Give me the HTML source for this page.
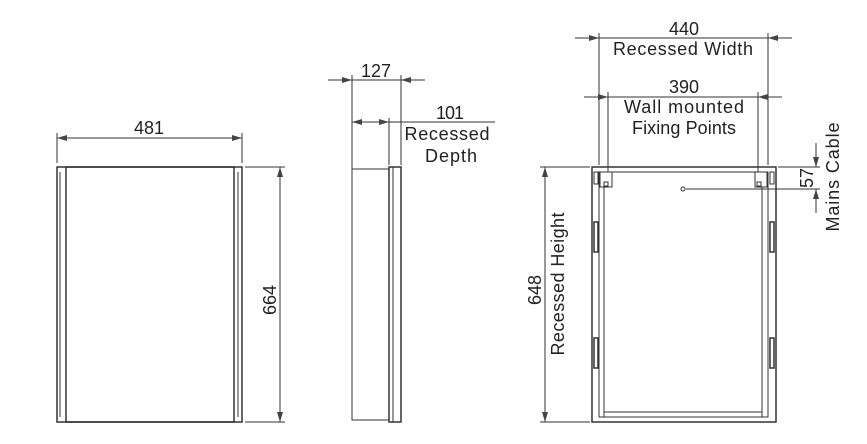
<!DOCTYPE html>
<html><head><style>body{margin:0;background:#fff}svg{display:block}text{font-family:"Liberation Sans",sans-serif;font-size:18px;fill:#222}</style></head><body>
<svg width="867" height="444" viewBox="0 0 867 444">
<defs><marker id="a" viewBox="0 0 10 6" refX="10" refY="3" markerWidth="10" markerHeight="6" orient="auto-start-reverse" markerUnits="userSpaceOnUse"><path d="M0,0L10,3L0,6z" fill="#444"/></marker></defs>
<g stroke="#333" fill="none" stroke-width="1">
<rect x="57" y="167" width="185" height="255" stroke-width="1.5"/>
<rect x="66" y="167" width="168" height="255" stroke-width="1.5"/>
<line x1="60" y1="172" x2="60" y2="417"/><line x1="238" y1="172" x2="238" y2="417"/>
<line x1="57" y1="133" x2="57" y2="163"/><line x1="242" y1="133" x2="242" y2="163"/>
<line x1="57" y1="138" x2="242" y2="138" marker-start="url(#a)" marker-end="url(#a)"/>
<line x1="245" y1="167" x2="285" y2="167"/><line x1="245" y1="422" x2="285" y2="422"/>
<line x1="280" y1="167" x2="280" y2="422" marker-start="url(#a)" marker-end="url(#a)"/>
<rect x="352" y="169" width="37" height="251"/>
<rect x="389" y="167" width="12" height="255" stroke-width="1.5"/>
<line x1="393" y1="167" x2="393" y2="422"/>
<line x1="352" y1="75" x2="352" y2="188"/><line x1="401" y1="75" x2="401" y2="165"/><line x1="389" y1="118" x2="389" y2="165"/>
<line x1="328" y1="80" x2="352" y2="80" marker-end="url(#a)"/><line x1="425" y1="80" x2="401" y2="80" marker-end="url(#a)"/><line x1="352" y1="80" x2="401" y2="80"/>
<line x1="352" y1="122" x2="389" y2="122" marker-start="url(#a)" marker-end="url(#a)"/><line x1="389" y1="122" x2="495" y2="122"/>
<rect x="592" y="167" width="184" height="255" stroke-width="1.5"/>
<rect x="599" y="172" width="169" height="245"/>
<line x1="604" y1="187" x2="604" y2="412"/><line x1="762" y1="187" x2="762" y2="412"/>
<rect x="604" y="412" width="158" height="5"/>
<rect x="600" y="172" width="12" height="15"/><rect x="755" y="172" width="12" height="15"/>
<rect x="604" y="182" width="4" height="4"/><rect x="757" y="182" width="4" height="4"/>
<rect x="594" y="222" width="4" height="30" stroke-width="1.5"/><rect x="594" y="338" width="4" height="30" stroke-width="1.5"/>
<rect x="770" y="222" width="4" height="30" stroke-width="1.5"/><rect x="770" y="338" width="4" height="30" stroke-width="1.5"/>
<rect x="594" y="172" width="4" height="12"/><rect x="770" y="172" width="4" height="12"/>
<circle cx="683" cy="189" r="2"/>
<line x1="599" y1="33" x2="599" y2="165"/><line x1="768" y1="33" x2="768" y2="165"/>
<line x1="575" y1="38" x2="599" y2="38" marker-end="url(#a)"/><line x1="792" y1="38" x2="768" y2="38" marker-end="url(#a)"/><line x1="599" y1="38" x2="768" y2="38"/>
<line x1="608" y1="92" x2="608" y2="172"/><line x1="758" y1="92" x2="758" y2="172"/>
<line x1="584" y1="97" x2="608" y2="97" marker-end="url(#a)"/><line x1="782" y1="97" x2="758" y2="97" marker-end="url(#a)"/><line x1="608" y1="97" x2="758" y2="97"/>
<line x1="778" y1="167" x2="820" y2="167"/><line x1="686" y1="189" x2="820" y2="189"/>
<line x1="816" y1="143" x2="816" y2="167" marker-end="url(#a)"/><line x1="816" y1="213" x2="816" y2="189" marker-end="url(#a)"/>
<line x1="540" y1="167" x2="590" y2="167"/><line x1="540" y1="422" x2="590" y2="422"/>
<line x1="545" y1="167" x2="545" y2="422" marker-start="url(#a)" marker-end="url(#a)"/>
</g>
<text x="149" y="134" text-anchor="middle" textLength="30">481</text>
<text transform="translate(276,300) rotate(-90)" text-anchor="middle" textLength="30">664</text>
<text x="376" y="77" text-anchor="middle" textLength="30">127</text>
<text x="450" y="119" text-anchor="middle" textLength="28">101</text>
<text x="447" y="140" text-anchor="middle" textLength="85">Recessed</text>
<text x="451" y="162" text-anchor="middle" textLength="52">Depth</text>
<text x="684" y="35" text-anchor="middle" textLength="30">440</text>
<text x="683" y="55" text-anchor="middle" textLength="140">Recessed Width</text>
<text x="684" y="93" text-anchor="middle" textLength="30">390</text>
<text x="684" y="113" text-anchor="middle" textLength="120">Wall mounted</text>
<text x="684" y="134" text-anchor="middle" textLength="104">Fixing Points</text>
<text transform="translate(813,178) rotate(-90)" text-anchor="middle" textLength="20">57</text>
<text transform="translate(839,177) rotate(-90)" text-anchor="middle" textLength="109">Mains Cable</text>
<text transform="translate(541,290) rotate(-90)" text-anchor="middle" textLength="30">648</text>
<text transform="translate(564,284) rotate(-90)" text-anchor="middle" textLength="143">Recessed Height</text>
</svg></body></html>
